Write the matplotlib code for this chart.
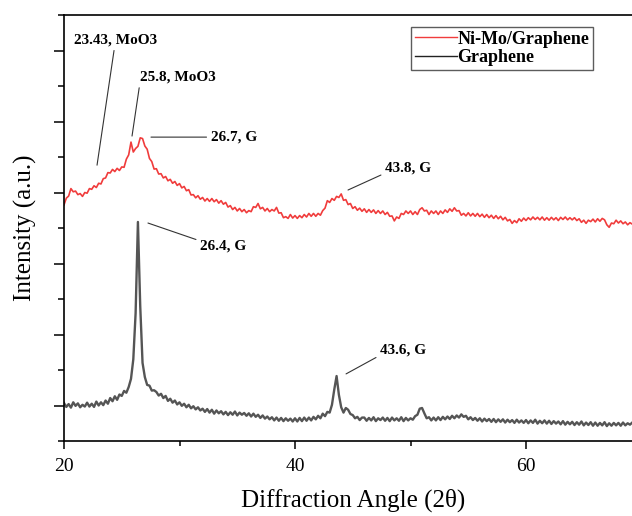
import matplotlib
matplotlib.use("Agg")
import matplotlib.pyplot as plt
import numpy as np
from matplotlib.ticker import MultipleLocator, NullFormatter

# ---------------- data ----------------
# measurement grid: 2-theta from 20.0 to 69.2 in 0.2 degree steps
two_theta = np.round(np.arange(20.0, 69.3, 0.2), 1)

nimo_intensity = [
    6.65, 6.84, 6.90, 7.11, 7.02, 7.04, 6.94, 6.97, 6.89, 7.00,
    6.98, 7.11, 7.09, 7.19, 7.14, 7.26, 7.24, 7.39, 7.41, 7.56,
    7.55, 7.65, 7.59, 7.68, 7.62, 7.72, 7.71, 7.94, 8.06, 8.42,
    8.14, 8.24, 8.30, 8.54, 8.52, 8.31, 8.22, 7.96, 7.87, 7.66,
    7.67, 7.52, 7.53, 7.41, 7.45, 7.33, 7.37, 7.26, 7.31, 7.20,
    7.25, 7.13, 7.17, 7.05, 7.08, 6.93, 6.94, 6.85, 6.91, 6.81,
    6.86, 6.76, 6.83, 6.75, 6.83, 6.74, 6.80, 6.70, 6.77, 6.67,
    6.72, 6.59, 6.63, 6.52, 6.58, 6.48, 6.55, 6.46, 6.52, 6.43,
    6.49, 6.46, 6.60, 6.58, 6.69, 6.54, 6.58, 6.48, 6.55, 6.46,
    6.52, 6.48, 6.58, 6.42, 6.43, 6.29, 6.32, 6.27, 6.38, 6.28,
    6.35, 6.27, 6.35, 6.29, 6.38, 6.31, 6.41, 6.33, 6.41, 6.33,
    6.41, 6.36, 6.49, 6.56, 6.77, 6.72, 6.83, 6.78, 6.89, 6.86,
    6.96, 6.78, 6.80, 6.66, 6.69, 6.55, 6.60, 6.50, 6.56, 6.47,
    6.54, 6.44, 6.52, 6.44, 6.51, 6.41, 6.49, 6.41, 6.48, 6.38,
    6.44, 6.33, 6.34, 6.20, 6.31, 6.27, 6.41, 6.38, 6.48, 6.41,
    6.48, 6.38, 6.46, 6.38, 6.52, 6.57, 6.48, 6.50, 6.38, 6.48,
    6.41, 6.48, 6.38, 6.48, 6.41, 6.51, 6.44, 6.54, 6.47, 6.57,
    6.48, 6.49, 6.36, 6.41, 6.34, 6.43, 6.34, 6.41, 6.33, 6.41,
    6.32, 6.39, 6.30, 6.38, 6.29, 6.36, 6.27, 6.35, 6.26, 6.33,
    6.23, 6.30, 6.20, 6.24, 6.13, 6.21, 6.15, 6.26, 6.19, 6.28,
    6.21, 6.29, 6.23, 6.31, 6.24, 6.30, 6.23, 6.31, 6.22, 6.29,
    6.22, 6.30, 6.23, 6.29, 6.21, 6.30, 6.24, 6.31, 6.23, 6.29,
    6.23, 6.29, 6.21, 6.26, 6.16, 6.22, 6.13, 6.22, 6.18, 6.25,
    6.17, 6.26, 6.19, 6.27, 6.23, 6.09, 6.02, 6.14, 6.12, 6.22,
    6.14, 6.20, 6.12, 6.17, 6.09, 6.15, 6.11,
]

graphene_intensity = [
    1.07, 0.96, 1.04, 0.94, 1.09, 0.99, 1.06, 0.95, 1.02, 0.97,
    1.08, 0.97, 1.05, 0.96, 1.11, 1.00, 1.09, 1.01, 1.14, 1.05,
    1.21, 1.12, 1.26, 1.16, 1.31, 1.27, 1.41, 1.36, 1.52, 1.75,
    2.30, 3.60, 6.17, 3.80, 2.20, 1.80, 1.58, 1.56, 1.42, 1.43,
    1.38, 1.28, 1.33, 1.21, 1.27, 1.13, 1.19, 1.08, 1.14, 1.03,
    1.09, 0.99, 1.05, 0.95, 1.02, 0.92, 0.98, 0.89, 0.95, 0.86,
    0.91, 0.82, 0.90, 0.80, 0.88, 0.77, 0.86, 0.78, 0.84, 0.75,
    0.82, 0.73, 0.81, 0.74, 0.83, 0.72, 0.80, 0.74, 0.79, 0.71,
    0.78, 0.69, 0.77, 0.68, 0.74, 0.65, 0.72, 0.63, 0.69, 0.61,
    0.67, 0.58, 0.66, 0.57, 0.65, 0.56, 0.64, 0.57, 0.63, 0.55,
    0.64, 0.55, 0.65, 0.56, 0.66, 0.57, 0.66, 0.58, 0.68, 0.61,
    0.71, 0.64, 0.77, 0.70, 0.82, 0.80, 1.02, 1.45, 1.83, 1.30,
    0.95, 0.80, 0.93, 0.88, 0.76, 0.73, 0.64, 0.68, 0.59, 0.66,
    0.66, 0.57, 0.65, 0.58, 0.67, 0.56, 0.64, 0.59, 0.66, 0.57,
    0.65, 0.56, 0.66, 0.58, 0.64, 0.57, 0.67, 0.56, 0.65, 0.58,
    0.64, 0.60, 0.70, 0.74, 0.91, 0.93, 0.78, 0.64, 0.67, 0.58,
    0.66, 0.58, 0.67, 0.59, 0.68, 0.61, 0.69, 0.62, 0.71, 0.64,
    0.72, 0.66, 0.75, 0.68, 0.71, 0.61, 0.67, 0.59, 0.65, 0.57,
    0.64, 0.55, 0.63, 0.56, 0.62, 0.54, 0.62, 0.53, 0.61, 0.54,
    0.61, 0.52, 0.60, 0.53, 0.59, 0.51, 0.60, 0.52, 0.58, 0.51,
    0.59, 0.50, 0.58, 0.51, 0.60, 0.49, 0.57, 0.50, 0.58, 0.49,
    0.57, 0.48, 0.56, 0.49, 0.55, 0.47, 0.56, 0.46, 0.54, 0.47,
    0.54, 0.45, 0.53, 0.46, 0.55, 0.44, 0.52, 0.45, 0.53, 0.43,
    0.52, 0.43, 0.51, 0.44, 0.53, 0.42, 0.50, 0.43, 0.51, 0.44,
    0.51, 0.43, 0.52, 0.44, 0.50, 0.46, 0.52,
]

series_labels = ["Ni-Mo/Graphene", "Graphene"]
x_ticks = [20, 40, 60]
x_label = "Diffraction Angle (2θ)"
y_label = "Intensity (a.u.)"

# peak annotations: (text, pointed angle, pointed intensity, text angle, text intensity, relpos)
annotations = [
    ("23.43, MoO3", 22.86, 7.77, 20.87, 11.30, (0.5, 0.5)),
    ("25.8, MoO3", 25.89, 8.59, 26.58, 10.25, (0.0, 0.1)),
    ("26.7, G", 27.53, 8.56, 32.70, 8.56, (0.0, 0.5)),
    ("26.4, G", 27.27, 6.14, 31.78, 5.49, (0.0, 0.9)),
    ("43.8, G", 44.59, 7.07, 47.79, 7.69, (0.0, 0.1)),
    ("43.6, G", 44.42, 1.89, 47.36, 2.56, (0.0, 0.1)),
]

# ---------------- figure ----------------
plt.rcParams["font.family"] = ["Liberation Serif", "DejaVu Serif"]

W, H = 632, 516
fig = plt.figure(figsize=(W / 100, H / 100), dpi=100)
ax = fig.add_axes([64 / W, 1 - 441 / H, 577.5 / W, 426 / H])

red = "#f03c3c"
gray = "#555555"
ax.plot(two_theta, nimo_intensity, color=red, lw=1.2, label=series_labels[0])
ax.plot(two_theta, graphene_intensity, color=gray, lw=1.7, label=series_labels[1])

ax.set_xlim(20, 70)
ax.set_ylim(0, 12)

ax.set_xticks(x_ticks)
ax.xaxis.set_minor_locator(MultipleLocator(10))
ax.yaxis.set_major_locator(MultipleLocator(2, offset=1))
ax.yaxis.set_minor_locator(MultipleLocator(1))
ax.yaxis.set_major_formatter(NullFormatter())
ax.yaxis.set_minor_formatter(NullFormatter())

ax.tick_params(axis="x", which="major", direction="out", length=6, width=1.1,
               labelsize=14, pad=6)
ax.tick_params(axis="x", which="minor", direction="out", length=3.5, width=1.1)
ax.tick_params(axis="y", which="major", direction="out", length=7, width=1.1)
ax.tick_params(axis="y", which="minor", direction="out", length=4, width=1.1)
ax.tick_params(top=False, right=False, which="both")

for s in ["left", "bottom", "top"]:
    ax.spines[s].set_linewidth(1.2)
ax.spines["right"].set_visible(False)

ax.set_xlabel(x_label, fontsize=18, labelpad=10)
ax.set_ylabel(y_label, fontsize=18)
ax.yaxis.set_label_coords(-27 / 577.5, 0.5)

for text, px, py, tx, ty, rp in annotations:
    ax.annotate(text, xy=(px, py), xytext=(tx, ty), fontsize=11,
                fontweight="bold", ha="left", va="center",
                arrowprops=dict(arrowstyle="-", color="#333333", lw=0.8,
                                relpos=rp, shrinkA=1, shrinkB=0))

leg = ax.legend(loc="upper right", bbox_to_anchor=(0.916, 0.972),
                borderaxespad=0, prop={"weight": "bold", "size": 13},
                frameon=True, fancybox=False, handlelength=2.3,
                handletextpad=0.05, borderpad=0.2, labelspacing=0.1)
leg.get_frame().set_edgecolor("#333333")
leg.get_frame().set_linewidth(1.0)
leg.legend_handles[0].set_linewidth(1.0)
leg.legend_handles[1].set_color("#222222")
leg.legend_handles[1].set_linewidth(1.0)

fig.savefig("out.png", dpi=100)
